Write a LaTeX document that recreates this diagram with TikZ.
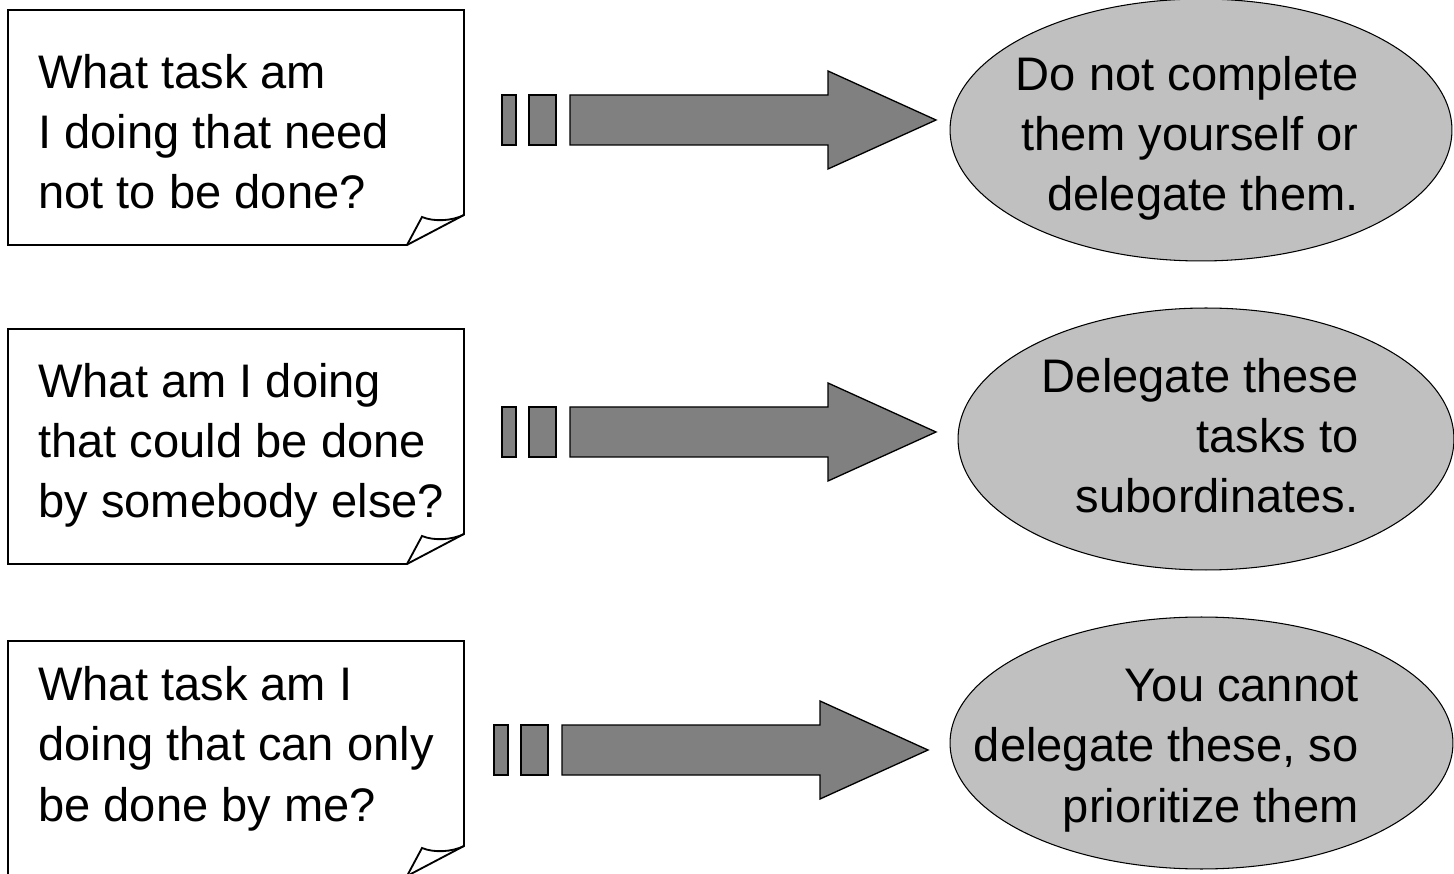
\documentclass[tikz,border=0pt]{standalone}
\usepackage{fontspec}
\setmainfont{Liberation Sans}
\usetikzlibrary{shapes.geometric,calc}
\definecolor{BubbleGray}{RGB}{192,192,192}
\definecolor{ArrowGray}{RGB}{128,128,128}
\tikzset{
  notebox/.style={draw=black, fill=white, line width=1.05pt},
  fold/.style={draw=black, line width=1.05pt},
  qtext/.style={anchor=base west, inner sep=0pt, align=left, font=\fontsize{26.8}{34.4}\selectfont},
  atext/.style={anchor=base east, inner sep=0pt, align=right, font=\fontsize{26.8}{34.4}\selectfont},
  answer/.style={ellipse, draw=black, fill=BubbleGray, line width=0.6pt, inner sep=0pt},
  arrowpart/.style={draw=black, fill=ArrowGray, line width=0.75pt},
  pics/blockarrow/.style={code={
    \draw[arrowpart] (0,-25) rectangle (14,25);
    \draw[arrowpart] (27,-25) rectangle (54,25);
    \draw[arrowpart] (68,-25) -- (326,-25) -- (326,-49) -- (434,0) -- (326,49) -- (326,25) -- (68,25) -- cycle;
  }}
}
% note paper with a curled corner: top, bottom
\newcommand{\notepaper}[2]{%
  \draw[notebox] (8,#1) -- (464,#1) -- (464,#2-30) -- (407,#2) -- (8,#2) -- cycle;
  \draw[fold] (407,#2) -- (422,#2-28) .. controls (434,#2-23) and (452,#2-24) .. (464,#2-30);
}

\begin{document}
\begin{tikzpicture}[x=0.02cm, y=-0.02cm]
  \useasboundingbox (0,0) rectangle (1454,874);

  % questions (placed at the baseline of the last line)
  \notepaper{10}{245}
  \notepaper{329}{564}
  \notepaper{641}{876}
  \node[qtext] (q1) at (38,209) {What task am\\I doing that need\\not to be done?};
  \node[qtext] (q2) at (38,518) {What am I doing\\that could be done\\by somebody else?};
  \node[qtext] (q3) at (38,821) {What task am I\\doing that can only\\be done by me?};

  % arrows
  \pic at (502,120) {blockarrow};
  \pic at (502,432) {blockarrow};
  \pic at (494,750) {blockarrow};

  % answers
  \node[answer, minimum width=10.04cm, minimum height=5.24cm] (a1) at (1201,130) {};
  \node[answer, minimum width=9.92cm, minimum height=5.24cm] (a2) at (1206,439) {};
  \node[answer, minimum width=10.06cm, minimum height=5.04cm] (a3) at (1201.5,743) {};
  \node[atext] (t1) at (1359,211) {Do not complete\\them yourself or\\delegate them.};
  \node[atext] (t2) at (1359,513) {Delegate these\\tasks to\\subordinates.};
  \node[atext] (t3) at (1359,822) {You cannot\\delegate these, so\\prioritize them};
\end{tikzpicture}
\end{document}
